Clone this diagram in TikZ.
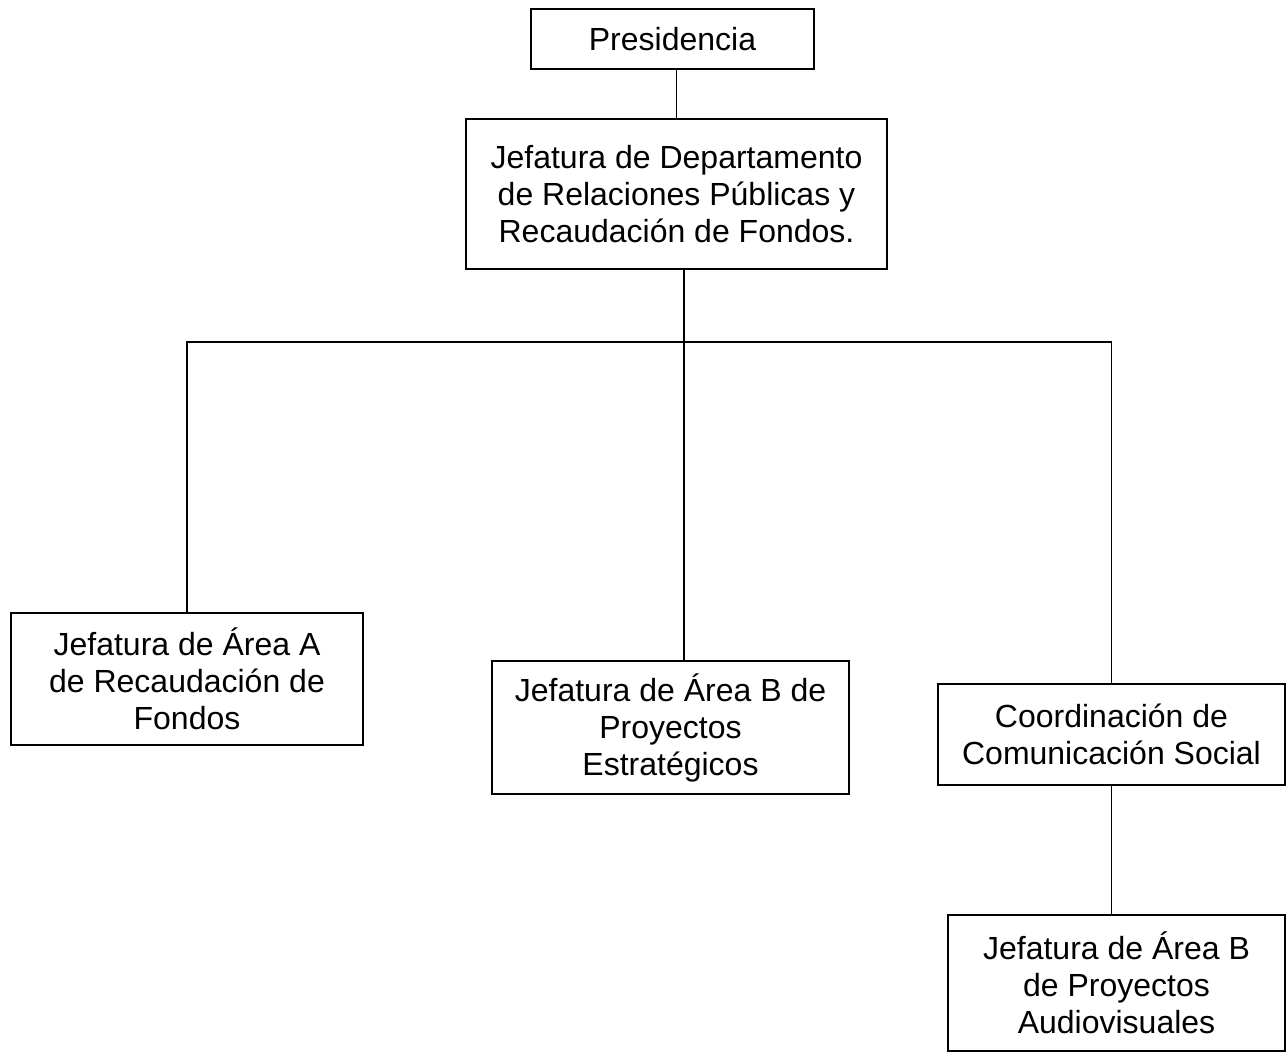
\documentclass[tikz,border=0pt]{standalone}
\usepackage{fontspec}
\setmainfont{Liberation Sans}
\usepackage{tikz}
\tikzstyle{unitbox} = [rectangle, draw=black, line width=1.5pt, align=center, inner sep=0pt, font=\fontsize{32}{37}\selectfont]
\tikzstyle{link} = [line width=1.5pt]

\begin{document}
\begin{tikzpicture}[x=1pt, y=-1pt]
	\useasboundingbox (0, 0) rectangle (1288, 1053);
	\node (pres) at (672.5, 39) [unitbox, minimum width=283, minimum height=60] {Presidencia};
	\node (dept) at (676.5, 194) [unitbox, minimum width=421, minimum height=150] {Jefatura de Departamento\\de Relaciones Públicas y\\Recaudación de Fondos.};
	\node (areaA) at (187, 679) [unitbox, minimum width=352, minimum height=132] {Jefatura de Área A\\de Recaudación de\\Fondos};
	\node (areaB) at (670.5, 727.5) [unitbox, minimum width=357, minimum height=133] {Jefatura de Área B de\\Proyectos\\Estratégicos};
	\node (comsoc) at (1111.5, 734.5) [unitbox, minimum width=347, minimum height=101] {Coordinación de\\Comunicación Social};
	\node (audiov) at (1116.5, 983) [unitbox, minimum width=337, minimum height=136] {Jefatura de Área B\\de Proyectos\\Audiovisuales};
	\coordinate (bus) at (684, 342);
		%\draw [link] (pres) -- (dept);
	\draw [link] (dept.north) -- (dept.north |- pres.south);
	\draw [link] (dept.south -| bus) -- (bus);
	\draw [link] (areaA.north) -- (areaA.north |- bus) -- (comsoc.north |- bus) -- (comsoc.north);
	\draw [link] (bus) -- (bus |- areaB.north);
	\draw [link] (comsoc.south) -- (comsoc.south |- audiov.north);
\end{tikzpicture}
\end{document}
